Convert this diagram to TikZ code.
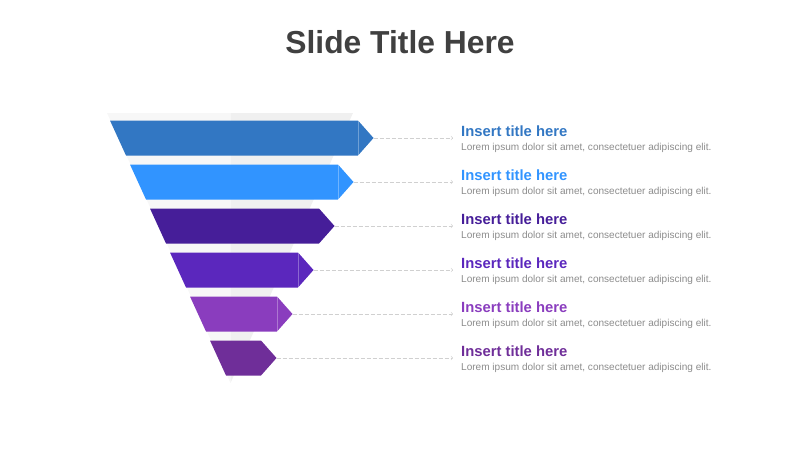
\documentclass[tikz,border=0pt]{standalone}
\usepackage{fontspec}
\setmainfont{Liberation Sans}
\usepackage{tikz}

\definecolor{bandA}{HTML}{3277C3}
\definecolor{bandB}{HTML}{3194FF}
\definecolor{bandC}{HTML}{461E99}
\definecolor{bandD}{HTML}{5B27BD}
\definecolor{bandE}{HTML}{8A3DBE}
\definecolor{bandF}{HTML}{6F2E99}
\definecolor{titlegray}{HTML}{404040}
\definecolor{loremgray}{HTML}{8C8C8C}
\definecolor{dashgray}{HTML}{D0D0D0}

\tikzset{
	head/.style={anchor=base west,inner sep=0pt,font=\fontsize{14.8}{16}\selectfont\bfseries},
	lorem/.style={anchor=base west,inner sep=0pt,font=\fontsize{10.05}{12}\selectfont,text=loremgray},
	leader/.style={dashgray,dash pattern=on 4pt off 2pt,line width=0.6pt,->},
	seam/.style={white,opacity=0.3,line width=0.8pt}
}

\begin{document}
\begin{tikzpicture}[x=1pt,y=-1pt]
			\useasboundingbox(0,0)rectangle(800,450);
			\node[font=\fontsize{31.8}{36}\selectfont\bfseries,text=titlegray](title)at(400,42){Slide Title Here};
			% funnel behind the bands
			\fill[black!3](107,113)--(230.5,113)--(230.5,383)--cycle;
			\fill[black!6](230.5,113)--(353,113)--(230.5,383)--cycle;
			% bands
			\fill[bandA](110,120.5)--(358,120.5)--(373.5,138)--(358,155.5)--(126,155.5)--cycle;
			\fill[bandB](130,164.5)--(338,164.5)--(353.5,182)--(338,199.5)--(146,199.5)--cycle;
			\fill[bandC](150,208.5)--(319,208.5)--(334.5,226)--(319,243.5)--(166,243.5)--cycle;
			\fill[bandD](170,252.5)--(298,252.5)--(313.5,270)--(298,287.5)--(186,287.5)--cycle;
			\fill[bandE](190,296.5)--(277,296.5)--(292.5,314)--(277,331.5)--(206,331.5)--cycle;
			\fill[bandF](210,340.5)--(261,340.5)--(276.5,358)--(261,375.5)--(226,375.5)--cycle;
			\draw[seam](358,120.5)--(358,155.5);
			\draw[seam](338,164.5)--(338,199.5);
			\draw[seam](298,252.5)--(298,287.5);
			\draw[seam](277,296.5)--(277,331.5);
			% tips and leader ends
			\coordinate(tip1)at(373.5,138);
			\coordinate(tip2)at(353.5,182);
			\coordinate(tip3)at(334.5,226);
			\coordinate(tip4)at(313.5,270);
			\coordinate(tip5)at(292.5,314);
			\coordinate(tip6)at(276.5,358);
			\coordinate(end1)at(453,138);
			\coordinate(end2)at(453,182);
			\coordinate(end3)at(453,226);
			\coordinate(end4)at(453,270);
			\coordinate(end5)at(453,314);
			\coordinate(end6)at(453,358);
			\draw[leader](tip1)--(end1);
			\draw[leader](tip2)--(end2);
			\draw[leader](tip3)--(end3);
			\draw[leader](tip4)--(end4);
			\draw[leader](tip5)--(end5);
			\draw[leader](tip6)--(end6);
			% texts
			\node[head,text=bandA](head1)at(461,136){Insert title here};
			\node[lorem](lorem1)at(461,150.5){Lorem ipsum dolor sit amet, consectetuer adipiscing elit.};
			\node[head,text=bandB](head2)at(461,180){Insert title here};
			\node[lorem](lorem2)at(461,194.5){Lorem ipsum dolor sit amet, consectetuer adipiscing elit.};
			\node[head,text=bandC](head3)at(461,224){Insert title here};
			\node[lorem](lorem3)at(461,238.5){Lorem ipsum dolor sit amet, consectetuer adipiscing elit.};
			\node[head,text=bandD](head4)at(461,268){Insert title here};
			\node[lorem](lorem4)at(461,282.5){Lorem ipsum dolor sit amet, consectetuer adipiscing elit.};
			\node[head,text=bandE](head5)at(461,312){Insert title here};
			\node[lorem](lorem5)at(461,326.5){Lorem ipsum dolor sit amet, consectetuer adipiscing elit.};
			\node[head,text=bandF](head6)at(461,356){Insert title here};
			\node[lorem](lorem6)at(461,370.5){Lorem ipsum dolor sit amet, consectetuer adipiscing elit.};
		\end{tikzpicture}
\end{document}
